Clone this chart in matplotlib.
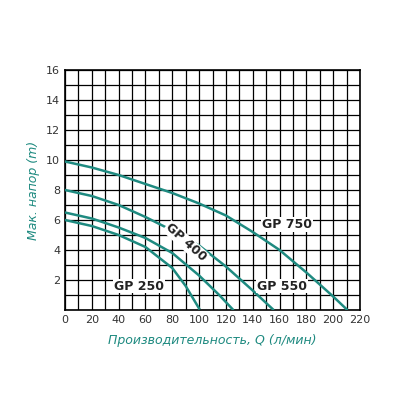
import matplotlib
matplotlib.use("Agg")
import matplotlib.pyplot as plt
import numpy as np

q250 = [0, 20, 40, 60, 80, 90, 100]
h250 = [6.0, 5.6, 5.0, 4.2, 2.8, 1.6, 0.1]
q400 = [0, 20, 40, 60, 80, 100, 115, 125]
h400 = [6.5, 6.1, 5.5, 4.8, 3.8, 2.3, 1.0, 0.05]
q550 = [0, 20, 40, 60, 80, 100, 120, 140, 155]
h550 = [8.0, 7.6, 7.0, 6.2, 5.3, 4.3, 2.9, 1.3, 0.05]
q750 = [0, 20, 40, 60, 80, 100, 120, 140, 160, 180, 200, 210]
h750 = [9.9, 9.5, 9.0, 8.4, 7.8, 7.1, 6.3, 5.2, 4.0, 2.5, 0.9, 0.05]
xticks = list(range(0, 221, 20))
yticks = list(range(2, 17, 2))

teal = "#1e8a80"
fig = plt.figure(figsize=(4, 4), dpi=100)
ax = fig.add_axes([0.1625, 0.225, 0.7375, 0.6])
ax.set_xlim(0, 220)
ax.set_ylim(0, 16)
ax.set_xticks(range(0, 221, 10), minor=True)
ax.set_yticks(range(0, 17, 1), minor=True)
ax.set_xticks(xticks)
ax.set_yticks(yticks)
ax.grid(True, which="both", color="black", linewidth=0.9)
ax.tick_params(which="both", length=0, labelsize=8, colors="#333333")
for s in ax.spines.values():
    s.set_linewidth(1.2)
for q, h in [(q250, h250), (q400, h400), (q550, h550), (q750, h750)]:
    ax.plot(q, h, color=teal, lw=1.8, zorder=3)
kw = dict(fontsize=9, fontweight="bold", color="#222222", zorder=4)
bb = dict(facecolor="white", edgecolor="none", pad=0.5)
ax.text(55, 1.6, "GP 250", ha="center", va="center", bbox=bb, **kw)
ax.text(162, 1.6, "GP 550", ha="center", va="center", bbox=bb, **kw)
ax.text(147, 5.7, "GP 750", ha="left", va="center", bbox=bb, **kw)
ax.text(90, 4.5, "GP 400", ha="center", va="center", rotation=-42, bbox=bb, **kw)
ax.set_xlabel("Производительность, Q (л/мин)", color=teal, style="italic", fontsize=9)
ax.set_ylabel("Мак. напор (m)", color=teal, style="italic", fontsize=9)
ax.xaxis.set_label_coords(0.5, -0.1)
fig.savefig("out.png")
